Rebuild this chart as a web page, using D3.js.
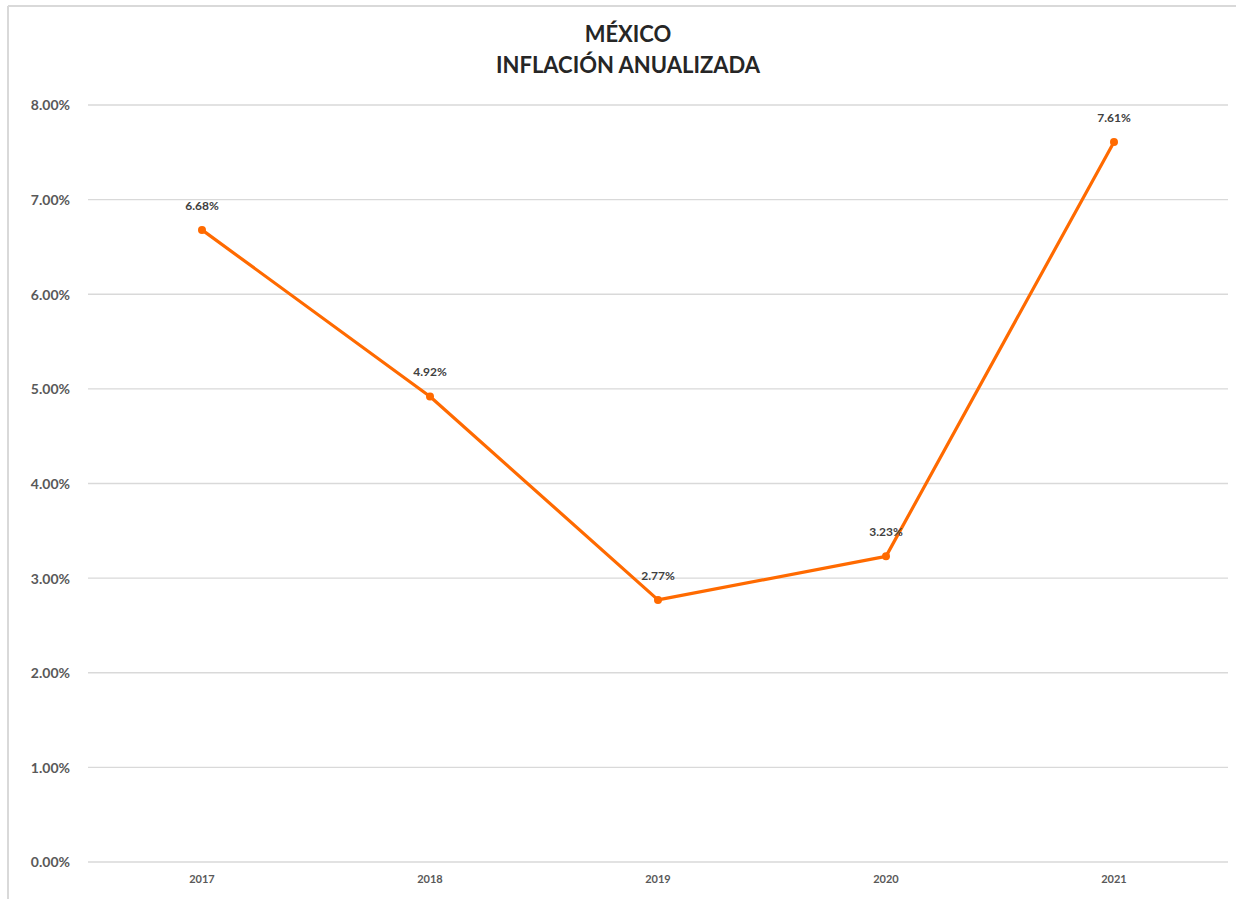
<!DOCTYPE html>
<html><head><meta charset="utf-8">
<script src="https://cdn.jsdelivr.net/npm/d3@7/dist/d3.min.js"></script>
<style>body{margin:0;background:#fff;}svg{display:block;}</style>
</head><body>
<svg id="c" width="1236" height="899"></svg>
<script>
const years = ["2017","2018","2019","2020","2021"];
const inflation = [6.68, 4.92, 2.77, 3.23, 7.61];
const yTicks = [0,1,2,3,4,5,6,7,8];
const titleLines = ["MÉXICO","INFLACIÓN ANUALIZADA"];

const svg = d3.select("#c");
const font = "Lato, 'Open Sans', sans-serif";
// border
svg.append("line").attr("x1",8).attr("x2",1236).attr("y1",6).attr("y2",6).attr("stroke","#d9d9d9").attr("stroke-width",2);
svg.append("line").attr("x1",8).attr("x2",8).attr("y1",6).attr("y2",899).attr("stroke","#d9d9d9").attr("stroke-width",2);

const x = d3.scaleBand().domain(years).range([88,1228]);
const y = d3.scaleLinear().domain([0,8]).range([862,105]);

svg.append("g").selectAll("line").data(yTicks).join("line")
  .attr("x1",88).attr("x2",1228).attr("y1",d=>y(d)).attr("y2",d=>y(d))
  .attr("stroke","#d9d9d9").attr("stroke-width",1.3);

const ya = svg.append("g").attr("transform","translate(70,0)")
  .call(d3.axisLeft(y).tickValues(yTicks).tickSize(0).tickFormat(d=>d.toFixed(2)+"%"));
ya.select(".domain").remove();
ya.selectAll("text").attr("font-family",font).attr("font-weight","bold").attr("font-size",14).attr("fill","#595959").attr("dy","0.35em").attr("x",0);

const xa = svg.append("g").attr("transform","translate(0,870)")
  .call(d3.axisBottom(x).tickSize(0));
xa.select(".domain").remove();
xa.selectAll("text").attr("font-family",font).attr("font-weight","bold").attr("font-size",11).attr("fill","#595959").attr("dy","0.9em");

const cx = d=>x(d)+x.bandwidth()/2;
const pts = years.map((yr,i)=>[cx(yr), y(inflation[i])]);
svg.append("path").attr("d", d3.line()(pts)).attr("fill","none").attr("stroke","#ff6a00").attr("stroke-width",3.2).attr("stroke-linejoin","round");
svg.append("g").selectAll("path").data(pts).join("path")
  .attr("d", d3.symbol(d3.symbolCircle, 50)())
  .attr("transform", d=>`translate(${d[0]},${d[1]})`).attr("fill","#ff6a00");
svg.append("g").selectAll("text").data(years).join("text")
  .attr("x",d=>cx(d)).attr("y",(d,i)=>y(inflation[i])-20)
  .attr("text-anchor","middle").attr("font-family",font).attr("font-weight","bold").attr("font-size",12).attr("fill","#404040")
  .text((d,i)=>inflation[i].toFixed(2)+"%");

svg.append("g").selectAll("text").data(titleLines).join("text")
  .attr("x",628).attr("y",(d,i)=>42+i*31).attr("text-anchor","middle")
  .attr("font-family",font).attr("font-weight","bold").attr("font-size",22).attr("fill","#262626")
  .text(d=>d);
</script>
</body></html>
